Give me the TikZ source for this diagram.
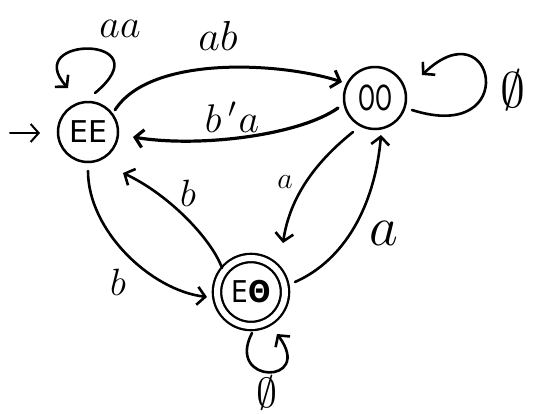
\RequirePackage{fix-cm}
\documentclass[tikz,border=0pt]{standalone}
\usepackage{fontspec}
\usepackage{graphicx}
\newfontfamily\statefont{DejaVu Sans}
\usetikzlibrary{arrows.meta}
\begin{document}
\begin{tikzpicture}[x=1pt,y=1pt,
  state/.style={circle, draw, line width=2.5pt, minimum size=60pt, inner sep=0pt,
    font=\statefont\fontsize{30}{30}\selectfont},
  accept/.style={circle, draw, double, line width=2.3pt, double distance=6pt,
    minimum size=68pt, inner sep=0pt, font=\statefont\fontsize{30}{30}\selectfont},
  edge/.style={line width=2.6pt, line cap=round, -{Straight Barb[length=8pt,width=18pt]}},
  lbl/.style={anchor=base, inner sep=0pt},
]
\path[use as bounding box] (0,0) rectangle (539,-413);

% states
\node[state] (EE) at (88,-132) {EE};
\node[state, minimum size=62pt] (OO) at (375,-98) {\scalebox{0.72}[1.15]{OO}};
\node[accept] (EO) at (251,-292) {\scalebox{0.88}[1]{E{\bfseries Θ}}};

% initial arrow
\coordinate (init) at (10,-133);
\draw[edge, line width=2pt] (init) -- ([shift={(-48,-1)}]EE.center);

% EE -> OO  (ab)
\draw[edge, line width=3pt] ([shift={(27,22)}]EE.center)
  .. controls (150,-55) and (280,-62) .. ([shift={(-33,16)}]OO.center);
% OO -> EE  (b'a)
\draw[edge, line width=3.2pt] ([shift={(-37,-10)}]OO.center)
  .. controls (300,-135) and (200,-148) .. ([shift={(45,-5)}]EE.center);
% EE -> EO  (b)
\draw[edge] ([shift={(0,-39)}]EE.center)
  .. controls (88,-230) and (150,-290) .. ([shift={(-44,-5)}]EO.center);
% EO -> EE  (b)
\draw[edge] ([shift={(-29,24)}]EO.center)
  .. controls (212,-240) and (170,-195) .. ([shift={(35,-41)}]EE.center);
% OO -> EO  (a)
\draw[edge] ([shift={(-22,-34)}]OO.center)
  .. controls (318,-160) and (290,-195) .. ([shift={(32,49)}]EO.center);
% EO -> OO  (a)
\draw[edge] ([shift={(44,10)}]EO.center)
  .. controls (345,-260) and (375,-205) .. ([shift={(6,-37)}]OO.center);

% self loops
\draw[edge] ([shift={(7,39)}]EE.center)
  .. controls (165,-35) and (20,-35) .. ([shift={(-20,44)}]EE.center);
\draw[edge] ([shift={(37,-12)}]OO.center)
  .. controls (522,-145) and (495,-5) .. ([shift={(47,23)}]OO.center);
\draw[edge] ([shift={(1,-41)}]EO.center)
  .. controls (225,-385) and (315,-385) .. ([shift={(26,-42)}]EO.center);

% labels
\node[lbl, font=\fontsize{40}{40}\selectfont] (laa) at (120,-37) {$aa$};
\node[lbl, font=\fontsize{42}{42}\selectfont] (lab) at (218,-50) {$ab$};
\node[lbl, font=\fontsize{40}{40}\selectfont] (lba) at (232,-132) {$b\mkern3mu{}^{\prime}\mkern1mu a$};
\node[lbl, font=\fontsize{38}{38}\selectfont] (lb1) at (188,-206) {$b$};
\node[lbl, font=\fontsize{38}{38}\selectfont] (lb2) at (118,-295) {$b$};
\node[lbl, font=\fontsize{30}{30}\selectfont] (la1) at (285,-188) {$a$};
\node[lbl, font=\fontsize{56}{56}\selectfont] (la2) at (384,-245) {$a$};
\node[inner sep=0pt, font=\fontsize{50}{50}\selectfont] (lz1) at (513,-90) {$\emptyset$};
\node[inner sep=0pt, font=\fontsize{42}{42}\selectfont] (lz2) at (267,-393) {$\emptyset$};
\end{tikzpicture}
\end{document}
